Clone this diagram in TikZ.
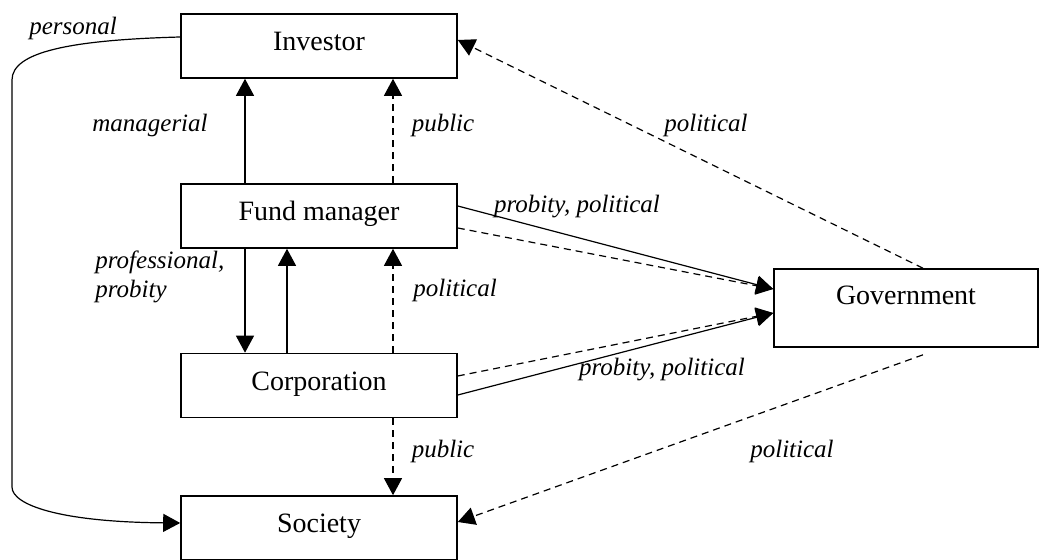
\documentclass[tikz,border=0pt]{standalone}
\usepackage{fontspec}
\setmainfont{Liberation Serif}
\usetikzlibrary{arrows.meta}
\tikzset{
    boxN/.style={draw, rectangle, line width=0.8pt, inner sep=0pt,
        minimum width=138pt, minimum height=32pt,
        text height=9.5pt, text depth=4.5pt,
        font=\fontsize{14}{16}\selectfont},
    relS/.style={line width=0.6pt, -{Triangle[length=8.5pt,width=9pt]}},
    relD/.style={relS, dash pattern=on 3.5pt off 2.5pt},
    lbl/.style={inner sep=0pt, font=\fontsize{12.5}{14.5}\selectfont\itshape}
}

\begin{document}
\begin{tikzpicture}[x=0.5pt, y=-0.5pt]
    \useasboundingbox (0,0) rectangle (1039,560);
    % actors
    \node[boxN] (inv) at (319,46) {Investor};
    \node[boxN] (fm) at (319,216) {Fund manager};
    \node[boxN] (corp) at (319,385.5) {Corporation};
    \node[boxN] (soc) at (319,528) {Society};
    \node[boxN, minimum width=132pt, minimum height=39pt, text depth=12.5pt] (gov) at (906,308) {Government};
    % bends of the personal line
    \coordinate (pc1) at (12,80);
    \coordinate (pc2) at (12,487);
    \draw[relS] ([yshift=4.5pt]inv.west) .. controls (70,40) and (12,52) .. (pc1) -- (pc2)
        .. controls (12,505) and (60,522) .. ([yshift=2.5pt]soc.west);
    % vertical links
    \draw[relS] ([xshift=-37pt]fm.north) -- ([xshift=-37pt]inv.south);
    \draw[relD] ([xshift=37pt]fm.north) -- ([xshift=37pt]inv.south);
    \draw[relS] ([xshift=-37pt]fm.south) -- ([xshift=-37pt]corp.north);
    \draw[relS] ([xshift=-16pt]corp.north) -- ([xshift=-16pt]fm.south);
    \draw[relD] ([xshift=37pt]corp.north) -- ([xshift=37pt]fm.south);
    \draw[relD] ([xshift=37pt]corp.south) -- ([xshift=37pt]soc.north);
    % links with government
    \draw[relS] ([yshift=5pt]fm.east) -- ([yshift=9.5pt]gov.west);
    \draw[relD] ([yshift=-6pt]fm.east) -- ([yshift=9.5pt]gov.west);
    \draw[relD] ([yshift=4.75pt]corp.east) -- ([yshift=-2.5pt]gov.west);
    \draw[relS] ([yshift=-4.75pt]corp.east) -- ([yshift=-2.5pt]gov.west);
    \draw[relD] ([xshift=8.5pt]gov.north) -- ([yshift=3pt]inv.east);
    \draw[relD] ([xshift=8.5pt,yshift=-3.5pt]gov.south) -- ([yshift=3pt]soc.east);
    % labels
    \node[lbl] (lpers) at (73,28) {personal};
    \node[lbl] (lman) at (150,125) {managerial};
    \node[lbl] (lpub1) at (443,125) {public};
    \node[lbl, align=left, anchor=west] (lprof) at (95,277) {professional,\\probity};
    \node[lbl, anchor=west] (lpol1) at (413,290) {political};
    \node[lbl] (lpub2) at (443,451) {public};
    \node[lbl] (lprob1) at (577,207) {probity, political};
    \node[lbl] (lprob2) at (662,370) {probity, political};
    \node[lbl] (lpol2) at (706,125) {political};
    \node[lbl] (lpol3) at (792,451) {political};
\end{tikzpicture}
\end{document}
